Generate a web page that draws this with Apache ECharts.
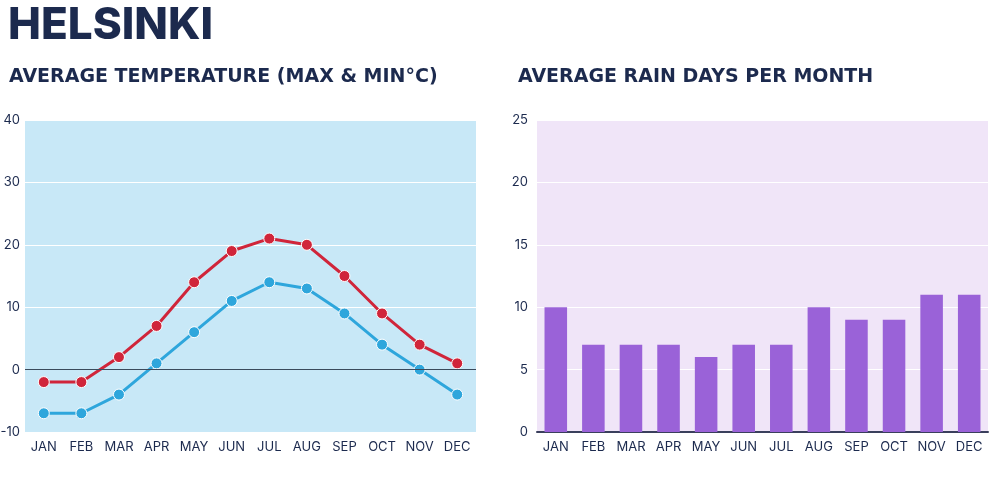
<!DOCTYPE html>
<html><head><meta charset="utf-8">
<script src="https://cdn.jsdelivr.net/npm/echarts@6/dist/echarts.min.js"></script>
<style>html,body{margin:0;padding:0;background:#fff}#c{width:1000px;height:480px}</style>
</head><body><div id="c"></div>
<script>
const months = ['JAN','FEB','MAR','APR','MAY','JUN','JUL','AUG','SEP','OCT','NOV','DEC'];
const tempMax = [-2,-2,2,7,14,19,21,20,15,9,4,1];
const tempMin = [-7,-7,-4,1,6,11,14,13,9,4,0,-4];
const rainDays = [10,7,7,7,6,7,7,10,9,9,11,11];

const navy = '#1c2a4e';
const font = 'Inter, "Open Sans", sans-serif';
const subFont = '"DejaVu Sans", Inter, sans-serif';
const chart = echarts.init(document.getElementById('c'));
const axisLabel = {color: navy, fontSize: 13, fontFamily: font};
chart.setOption({
  animation: false,
  title: [
    {text: 'HELSINKI', left: 3, top: -1, textStyle: {color: navy, fontSize: 44, fontWeight: 800, fontFamily: font}},
    {text: 'AVERAGE TEMPERATURE (MAX & MIN°C)', left: 4, top: 63, textStyle: {color: navy, fontSize: 19, fontWeight: 'bold', fontFamily: subFont}},
    {text: 'AVERAGE RAIN DAYS PER MONTH', left: 513, top: 63, textStyle: {color: navy, fontSize: 19, fontWeight: 'bold', fontFamily: subFont}}
  ],
  grid: [
    {left: 25, right: 524, top: 120, bottom: 48, show: true, backgroundColor: '#c8e8f7', borderWidth: 0, outerBoundsMode: 'none', containLabel: false},
    {left: 537, right: 12, top: 120, bottom: 48, show: true, backgroundColor: '#f0e5f8', borderWidth: 0, outerBoundsMode: 'none', containLabel: false}
  ],
  xAxis: [
    {type: 'category', gridIndex: 0, data: months, boundaryGap: true,
     axisLine: {show: false, onZero: false}, axisTick: {show: false}, axisLabel: Object.assign({margin: 9, interval: 0}, axisLabel)},
    {type: 'category', gridIndex: 1, data: months, boundaryGap: true,
     axisLine: {show: true, lineStyle: {color: '#3a3f5c', width: 2}}, axisTick: {show: false}, axisLabel: Object.assign({margin: 9, interval: 0}, axisLabel)}
  ],
  yAxis: [
    {type: 'value', gridIndex: 0, min: -10, max: 40, interval: 10,
     axisLine: {show: false}, axisTick: {show: false}, axisLabel: Object.assign({margin: 5}, axisLabel),
     splitLine: {lineStyle: {color: '#ffffff', width: 1}}},
    {type: 'value', gridIndex: 1, min: 0, max: 25, interval: 5,
     axisLine: {show: false}, axisTick: {show: false}, axisLabel: Object.assign({margin: 9}, axisLabel),
     splitLine: {lineStyle: {color: '#ffffff', width: 1}}}
  ],
  series: [
    {type: 'line', name: 'Max', xAxisIndex: 0, yAxisIndex: 0, data: tempMax,
     lineStyle: {color: '#d0253a', width: 3}, itemStyle: {color: '#d0253a', borderColor: '#ffffff', borderWidth: 1},
     symbol: 'circle', symbolSize: 11,
     markLine: {silent: true, symbol: 'none', label: {show: false}, lineStyle: {color: '#3a4a5c', type: 'solid', width: 1}, data: [{yAxis: 0}]},
     z: 3},
    {type: 'line', name: 'Min', xAxisIndex: 0, yAxisIndex: 0, data: tempMin,
     lineStyle: {color: '#2ea6dc', width: 3}, itemStyle: {color: '#2ea6dc', borderColor: '#ffffff', borderWidth: 1},
     symbol: 'circle', symbolSize: 11, z: 3},
    {type: 'bar', name: 'Rain days', xAxisIndex: 1, yAxisIndex: 1, data: rainDays,
     barWidth: '60%', itemStyle: {color: '#9a62d8'}}
  ]
});
</script></body></html>
